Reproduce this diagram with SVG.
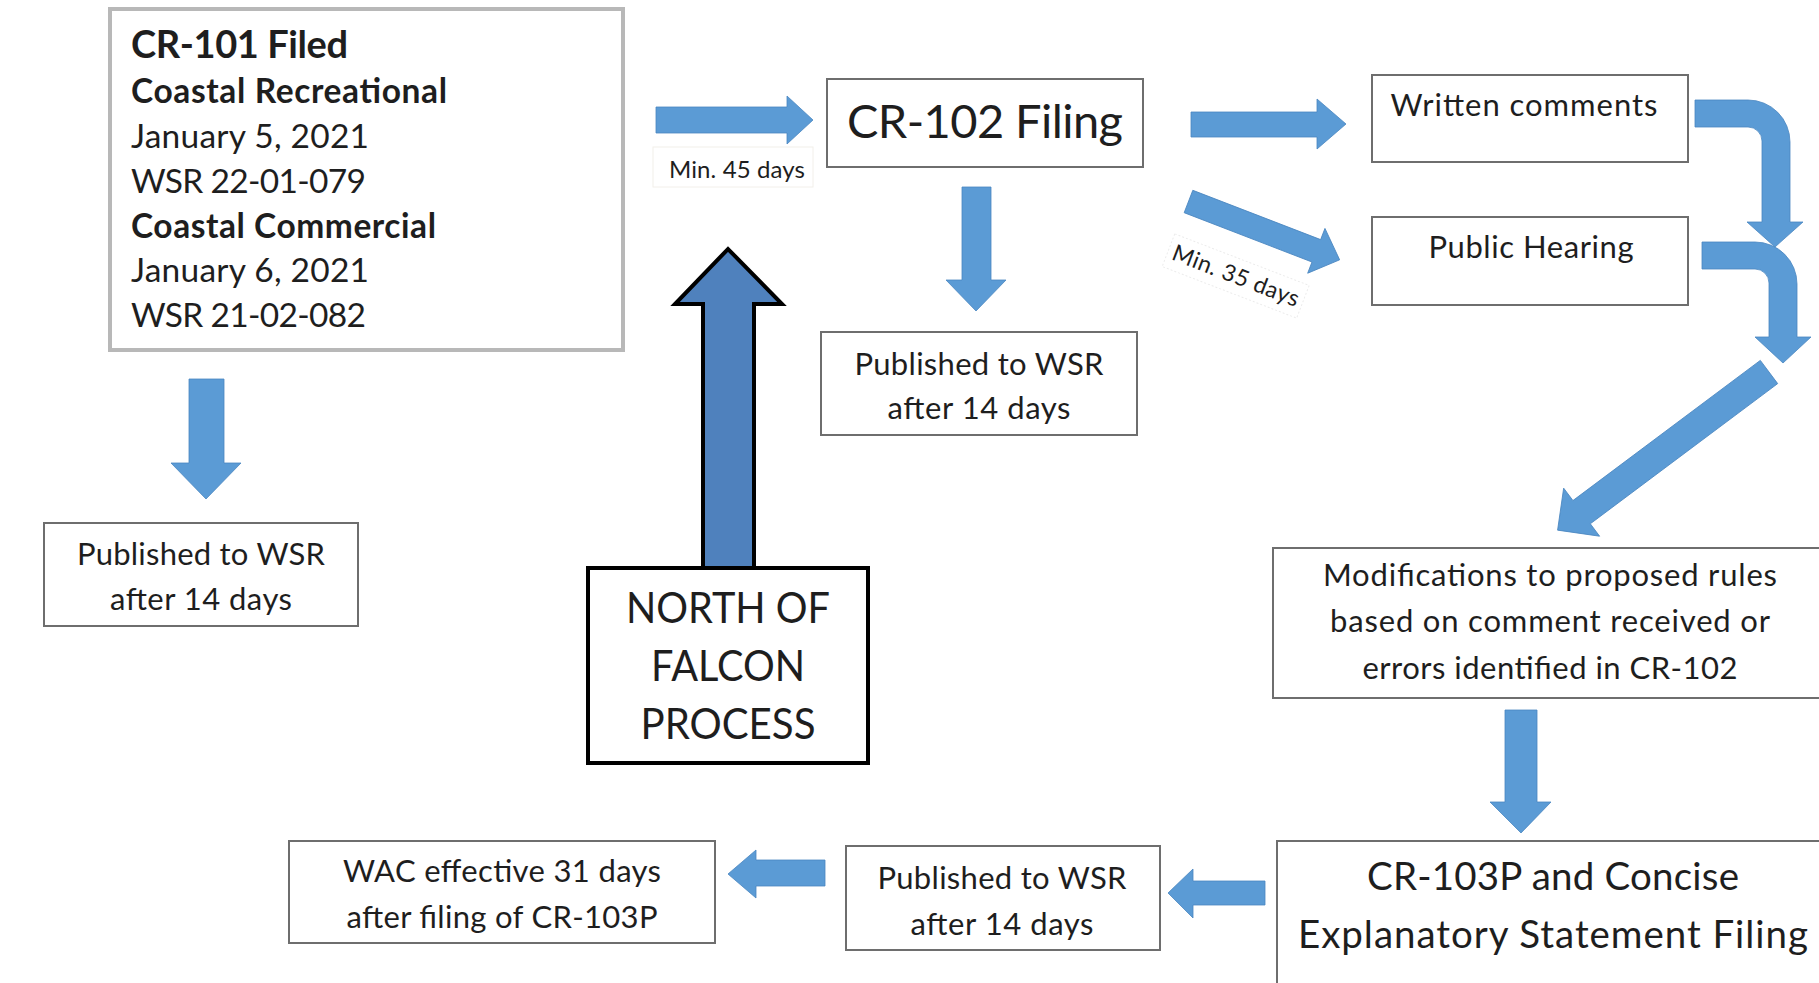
<svg xmlns="http://www.w3.org/2000/svg" width="1819" height="983" viewBox="0 0 1819 983">
<style>
.box{fill:#fff;stroke:#6e6e6e;stroke-width:2}
.t{font-family:Lato,"Liberation Sans",sans-serif;fill:#1e1e1e}
.c{text-anchor:middle}
.b{font-weight:bold}
.arr{fill:#5b9bd5;stroke:#4a86c0;stroke-width:0.8}
.lbl{fill:#fff;stroke:#f2efea;stroke-width:1}
</style>
<rect width="1819" height="983" fill="#fff"/>

<g id="connectors">
  <polygon class="arr" points="189,379 224,379 224,463 241,463 206,499 171,463 189,463"/>
  <polygon class="arr" points="656,107 787,107 787,96 813,120 787,144 787,133 656,133"/>
  <polygon class="arr" points="962,187 991,187 991,280 1006,280 976,311 946,280 962,280"/>
  <polygon class="arr" points="1191,112 1317,112 1317,99 1346,124 1317,149 1317,137 1191,137"/>
  <polygon class="arr" points="0,-12 137,-12 137,-24 162,0 137,24 137,12 0,12" transform="translate(1188.5,201.5) rotate(21.1)"/>
  <path class="arr" d="M1695,100 L1748,100 A42,42 0 0 1 1790,142 L1790,222 L1803,222 L1775,247 L1747,222 L1762,222 L1762,141 A14,14 0 0 0 1748,127 L1695,127 Z"/>
  <path class="arr" d="M1702,242 L1755,242 A42,42 0 0 1 1797,284 L1797,337 L1811,337 L1783,363 L1755,337 L1769,337 L1769,283 A14,14 0 0 0 1755,269 L1702,269 Z"/>
  <polygon class="arr" points="0,-14.5 234,-14.5 234,-30 264,0 234,30 234,14.5 0,14.5" transform="translate(1769,372) rotate(143.2)"/>
  <polygon class="arr" points="1505,710 1537,710 1537,802 1551,802 1521,833 1490,802 1505,802"/>
  <polygon class="arr" points="1265,881 1193,881 1193,869 1168,893 1193,918 1193,905 1265,905"/>
  <polygon class="arr" points="825,860 756,860 756,850 728,874 756,898 756,886 825,886"/>
  <polygon points="703,568 703,304 675,304 728,249 782,304 754,304 754,568" fill="#4f81bd" stroke="#000" stroke-width="4" stroke-linejoin="miter"/>
  <g id="label-45">
    <rect class="lbl" x="653" y="147" width="160" height="40"/>
    <text class="t c" x="737" y="178" font-size="24" textLength="136">Min. 45 days</text>
  </g>
  <g id="label-35" transform="translate(1233,283) rotate(21)">
    <rect x="-72" y="-25" width="144" height="35" fill="#fff" stroke="#ececec" stroke-width="1" stroke-dasharray="2,2"/>
    <text class="t c" x="0" y="0" font-size="23" textLength="134">Min. 35 days</text>
  </g>
</g>

<g id="cr101">
  <rect x="110" y="9" width="513" height="341" fill="#fff" stroke="#b8b8b8" stroke-width="4"/>
  <text class="t b" x="131" y="58" font-size="38" textLength="217">CR-101 Filed</text>
  <text class="t b" x="131" y="103" font-size="33.5" textLength="316">Coastal Recreational</text>
  <text class="t" x="131" y="148" font-size="33.5" textLength="238">January 5, 2021</text>
  <text class="t" x="131" y="193" font-size="33.5" textLength="235">WSR 22-01-079</text>
  <text class="t b" x="131" y="238" font-size="33.5" textLength="305">Coastal Commercial</text>
  <text class="t" x="131" y="282" font-size="33.5" textLength="238">January 6, 2021</text>
  <text class="t" x="131" y="327" font-size="33.5" textLength="235">WSR 21-02-082</text>
</g>

<g id="pub1">
  <rect class="box" x="44" y="523" width="314" height="103"/>
  <text class="t c" x="201" y="565" font-size="31" textLength="248">Published to WSR</text>
  <text class="t c" x="201" y="610" font-size="31" textLength="182">after 14 days</text>
</g>

<g id="cr102">
  <rect class="box" x="827" y="79" width="316" height="88"/>
  <text class="t c" x="985" y="138" font-size="47" textLength="276">CR-102 Filing</text>
</g>

<g id="pub2">
  <rect class="box" x="821" y="332" width="316" height="103"/>
  <text class="t c" x="979" y="375" font-size="31" textLength="249">Published to WSR</text>
  <text class="t c" x="979" y="419" font-size="31" textLength="183">after 14 days</text>
</g>

<g id="nof">
  <rect x="588" y="568" width="280" height="195" fill="#fff" stroke="#000" stroke-width="4"/>
  <text class="t c" x="728" y="623" font-size="43" textLength="204" lengthAdjust="spacingAndGlyphs">NORTH OF</text>
  <text class="t c" x="728" y="681" font-size="43" textLength="154" lengthAdjust="spacingAndGlyphs">FALCON</text>
  <text class="t c" x="728" y="739" font-size="43" textLength="175" lengthAdjust="spacingAndGlyphs">PROCESS</text>
</g>

<g id="written">
  <rect class="box" x="1372" y="75" width="316" height="87"/>
  <text class="t c" x="1524" y="116" font-size="31" textLength="267">Written comments</text>
</g>

<g id="hearing">
  <rect class="box" x="1372" y="217" width="316" height="88"/>
  <text class="t c" x="1531" y="258" font-size="31" textLength="205">Public Hearing</text>
</g>

<g id="mods">
  <rect class="box" x="1273" y="548" width="560" height="150"/>
  <text class="t c" x="1550" y="586" font-size="31" textLength="454">Modifications to proposed rules</text>
  <text class="t c" x="1550" y="632" font-size="31" textLength="440">based on comment received or</text>
  <text class="t c" x="1550" y="679" font-size="31" textLength="375">errors identified in CR-102</text>
</g>

<g id="cr103p">
  <rect class="box" x="1277" y="841" width="560" height="160"/>
  <text class="t c" x="1553" y="890" font-size="38.5" textLength="372">CR-103P and Concise</text>
  <text class="t c" x="1553" y="948" font-size="38.5" textLength="510">Explanatory Statement Filing</text>
</g>

<g id="pub3">
  <rect class="box" x="846" y="846" width="314" height="104"/>
  <text class="t c" x="1002" y="889" font-size="31" textLength="249">Published to WSR</text>
  <text class="t c" x="1002" y="935" font-size="31" textLength="183">after 14 days</text>
</g>

<g id="wac">
  <rect class="box" x="289" y="841" width="426" height="102"/>
  <text class="t c" x="502" y="882" font-size="31" textLength="318">WAC effective 31 days</text>
  <text class="t c" x="502" y="928" font-size="31" textLength="311">after filing of CR-103P</text>
</g>
</svg>
